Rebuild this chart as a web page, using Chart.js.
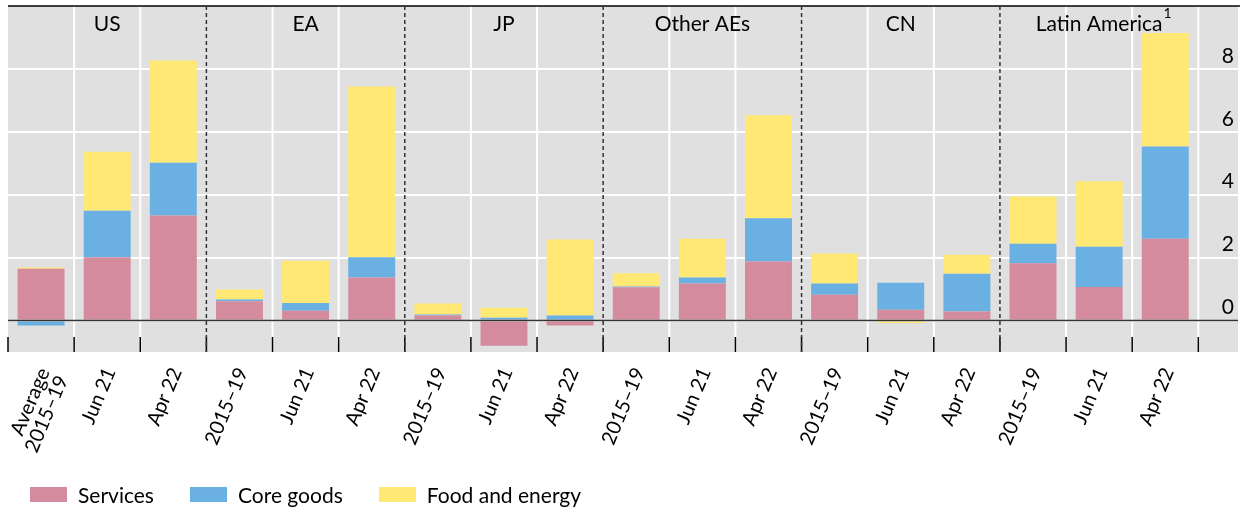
<!DOCTYPE html>
<html lang="en">
<head>
<meta charset="UTF-8" />
<title>Contributions to headline inflation</title>
<script src="https://cdn.jsdelivr.net/npm/chart.js@4"></script>
<style>
  body { margin: 0; background: #fff; }
  #wrap { position: relative; width: 1241px; height: 509px; }
  #legend { position: absolute; left: 30px; top: 483px; display: flex; align-items: center;
            font: 21px Lato, sans-serif; color: #000; line-height: 23px; }
  #legend .item { display: flex; align-items: center; margin-right: 36px; }
  #legend .box { width: 37px; height: 15px; margin-right: 11px; }
</style>
</head>
<body>
<div id="wrap">
  <canvas id="chart" width="1241" height="509"></canvas>
  <div id="legend"></div>
</div>
<script>
// categories (3 per economy)
const xLabels = [
  ['Average', '2015–19'], 'Jun 21', 'Apr 22',
  '2015–19', 'Jun 21', 'Apr 22',
  '2015–19', 'Jun 21', 'Apr 22',
  '2015–19', 'Jun 21', 'Apr 22',
  '2015–19', 'Jun 21', 'Apr 22',
  '2015–19', 'Jun 21', 'Apr 22'
];
const groupNames = ['US', 'EA', 'JP', 'Other AEs', 'CN', 'Latin America'];
const groupNotes = ['', '', '', '', '', '1'];

// percentage points
const services   = [1.65, 2.01, 3.34, 0.61, 0.31, 1.37, 0.16, -0.80, -0.16, 1.06, 1.18, 1.88, 0.82, 0.34, 0.29, 1.82, 1.07, 2.60];
const coreGoods  = [-0.16, 1.48, 1.68, 0.06, 0.25, 0.64, 0.03, 0.09, 0.16, 0.02, 0.19, 1.37, 0.36, 0.86, 1.20, 0.62, 1.28, 2.93];
const foodEnergy = [0.04, 1.88, 3.25, 0.32, 1.34, 5.43, 0.35, 0.32, 2.42, 0.42, 1.23, 3.28, 0.95, -0.08, 0.60, 1.50, 2.08, 3.61];

const yTicks = [0, 2, 4, 6, 8];

const FONT = 'Lato, sans-serif';
const perGroup = xLabels.length / groupNames.length;

const toPoints = arr => arr.map((v, i) => ({ x: i, y: v }));

// grey panel, white/dashed separators, zero line, group titles
const decor = {
  id: 'decor',
  beforeDraw(chart) {
    const { ctx, chartArea: a } = chart;
    ctx.save();
    ctx.fillStyle = '#e0e0e0';
    ctx.fillRect(a.left, a.top, a.right - a.left, a.bottom - a.top);
    ctx.restore();
  },
  beforeDatasetsDraw(chart) {
    const { ctx, chartArea: a, scales: { x } } = chart;
    ctx.save();
    ctx.strokeStyle = '#fff';
    ctx.lineWidth = 2;
    for (let i = 1; i <= xLabels.length; i++) {
      if (i % perGroup === 0 && i < xLabels.length) continue;
      const px = x.getPixelForValue(i - 0.5);
      ctx.beginPath(); ctx.moveTo(px, a.top); ctx.lineTo(px, a.bottom); ctx.stroke();
    }
    ctx.restore();
  },
  afterDatasetsDraw(chart) {
    const { ctx, chartArea: a, scales: { x, y } } = chart;
    ctx.save();
    // zero line
    const y0 = y.getPixelForValue(0);
    ctx.strokeStyle = '#333';
    ctx.lineWidth = 1.5;
    ctx.beginPath(); ctx.moveTo(a.left, y0); ctx.lineTo(a.right, y0); ctx.stroke();
    // top border
    ctx.strokeStyle = '#000';
    ctx.beginPath(); ctx.moveTo(a.left, a.top); ctx.lineTo(a.right + 2, a.top); ctx.stroke();
    // tick marks at the bottom of the panel
    for (let i = 0; i <= xLabels.length; i++) {
      const px = x.getPixelForValue(i - 0.5);
      ctx.beginPath(); ctx.moveTo(px, a.bottom - 15); ctx.lineTo(px, a.bottom); ctx.stroke();
    }
    // dashed group separators
    ctx.strokeStyle = '#333';
    ctx.setLineDash([4, 3]);
    for (let g = 1; g < groupNames.length; g++) {
      const px = x.getPixelForValue(g * perGroup - 0.5);
      ctx.beginPath(); ctx.moveTo(px, a.top); ctx.lineTo(px, a.bottom); ctx.stroke();
    }
    ctx.setLineDash([]);
    // group titles
    ctx.fillStyle = '#000';
    ctx.textAlign = 'center';
    ctx.textBaseline = 'alphabetic';
    groupNames.forEach((name, g) => {
      const cx = x.getPixelForValue(g * perGroup + (perGroup - 1) / 2);
      ctx.font = '21px ' + FONT;
      ctx.fillText(name, cx, a.top + 24.5);
      if (groupNotes[g]) {
        const w = ctx.measureText(name).width;
        ctx.font = '14px ' + FONT;
        ctx.textAlign = 'left';
        ctx.fillText(groupNotes[g], cx + w / 2 + 1, a.top + 12);
        ctx.textAlign = 'center';
      }
    });
    ctx.restore();
  }
};

const chart = new Chart(document.getElementById('chart'), {
  type: 'bar',
  data: {
    datasets: [
      { label: 'Services', data: toPoints(services), backgroundColor: '#d48b9e' },
      { label: 'Core goods', data: toPoints(coreGoods), backgroundColor: '#6ab0e2' },
      { label: 'Food and energy', data: toPoints(foodEnergy), backgroundColor: '#ffe873' }
    ]
  },
  options: {
    responsive: false,
    animation: false,
    barPercentage: 0.71,
    categoryPercentage: 1.0,
    layout: { padding: { left: 8, right: 3, top: 6, bottom: 0 } },
    plugins: { legend: { display: false }, tooltip: { enabled: false } },
    scales: {
      x: {
        type: 'linear', min: -0.5, max: 18.1, stacked: true, offset: false,
        afterBuildTicks: s => { s.ticks = xLabels.map((_, i) => ({ value: i })); },
        afterFit: s => { s.height = 157; s.paddingLeft = 0; s.paddingRight = 0; },
        grid: { display: false, offset: false },
        border: { display: false },
        ticks: {
          autoSkip: false, minRotation: 67, maxRotation: 67, padding: 5, labelOffset: 3,
          color: '#000', font: { family: FONT, size: 20, lineHeight: 1.0 },
          callback: v => xLabels[v]
        }
      },
      y: {
        position: 'right', min: -1, max: 10, stacked: true,
        afterBuildTicks: s => { s.ticks = yTicks.map(v => ({ value: v })); },
        afterFit: s => { s.width = 0; s.paddingTop = 0; s.paddingBottom = 0; },
        grid: { color: '#fff', lineWidth: 2, drawTicks: false },
        border: { display: false },
        ticks: {
          mirror: true, padding: -4, labelOffset: -13,
          color: '#000', font: { family: FONT, size: 21 }
        }
      }
    }
  },
  plugins: [decor]
});

// legend built from the datasets
const legend = document.getElementById('legend');
chart.data.datasets.forEach(ds => {
  const item = document.createElement('div');
  item.className = 'item';
  const box = document.createElement('span');
  box.className = 'box';
  box.style.background = ds.backgroundColor;
  item.appendChild(box);
  item.appendChild(document.createTextNode(ds.label));
  legend.appendChild(item);
});
</script>
</body>
</html>
